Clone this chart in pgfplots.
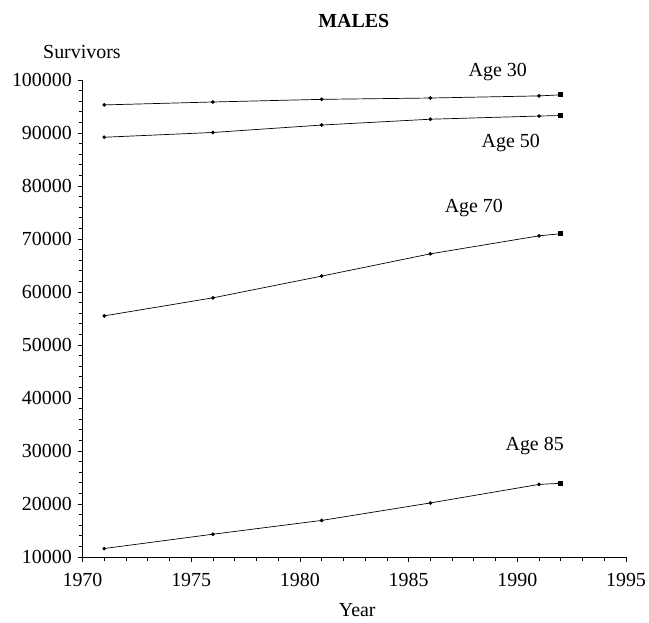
\documentclass[border=0pt]{standalone}
\usepackage{fontspec}
\setmainfont{Liberation Serif}
\usepackage{pgfplots}
\usepackage{pgfplotstable}
\pgfplotsset{compat=1.18}

% survivors out of 100000 males
\pgfplotstableread{
year  a30    a50    a70    a85
1971  95300  89200  55500  11600
1976  95850  90100  58900  14300
1981  96350  91500  63000  16900
1986  96600  92600  67200  20200
1991  97000  93200  70600  23700
1992  97200  93300  71000  23900
}\survivors

\newcommand{\chartfont}{\fontsize{20}{24}\selectfont}

\begin{document}
\begin{tikzpicture}
\begin{axis}[
    name=ax,
    width=543.5bp, height=477bp,
    scale only axis,
    xmin=1970, xmax=1995,
    ymin=10000, ymax=100000,
    axis lines*=left,
    axis line style={line width=0.8pt},
    xtick={1970,1975,...,1995},
    ytick={10000,20000,...,100000},
    minor x tick num=4,
    minor y tick num=4,
    tick align=outside,
    major tick length=5bp,
    minor tick length=4bp,
    tick style={black, line width=0.7pt},
    scaled y ticks=false,
    /pgf/number format/fixed,
    /pgf/number format/precision=0,
    /pgf/number format/set thousands separator={},
    /pgf/number format/assume math mode=true,
    ticklabel style={font=\chartfont, inner sep=0pt},
    yticklabel style={xshift=-5.5bp},
    xticklabel style={yshift=-11bp},
    clip=false,
    every axis plot/.append style={black, line width=0.7pt},
    dot/.style={mark=*, mark size=1.5pt, mark indices={1,2,3,4,5}},
    last/.style={only marks, mark=square*, mark size=2pt, mark indices={6}},
]
\addplot[dot] table[x=year, y=a30] {\survivors};
\addplot[last] table[x=year, y=a30] {\survivors};
\addplot[dot] table[x=year, y=a50] {\survivors};
\addplot[last] table[x=year, y=a50] {\survivors};
\addplot[dot] table[x=year, y=a70] {\survivors};
\addplot[last] table[x=year, y=a70] {\survivors};
\addplot[dot] table[x=year, y=a85] {\survivors};
\addplot[last] table[x=year, y=a85] {\survivors};
\node[font=\chartfont] at (axis cs:1989.1,101500) {Age 30};
\node[font=\chartfont] at (axis cs:1989.7,88100) {Age 50};
\node[font=\chartfont] at (axis cs:1988.0,75800) {Age 70};
\node[font=\chartfont] at (axis cs:1990.8,31000) {Age 85};
\end{axis}
\node[font=\chartfont\bfseries, anchor=base] at ([xshift=-0.5bp,yshift=52bp]ax.north) {MALES};
\node[font=\chartfont, anchor=base west, inner sep=0pt] at ([xshift=-39.5bp,yshift=21bp]ax.north west) {Survivors};
\node[font=\chartfont, anchor=base] at ([xshift=3bp,yshift=-59bp]ax.south) {Year};
\pgfresetboundingbox
\path[use as bounding box] ([xshift=-82.5bp,yshift=-66bp]ax.south west) rectangle ([xshift=23bp,yshift=80bp]ax.north east);
\end{tikzpicture}
\end{document}
